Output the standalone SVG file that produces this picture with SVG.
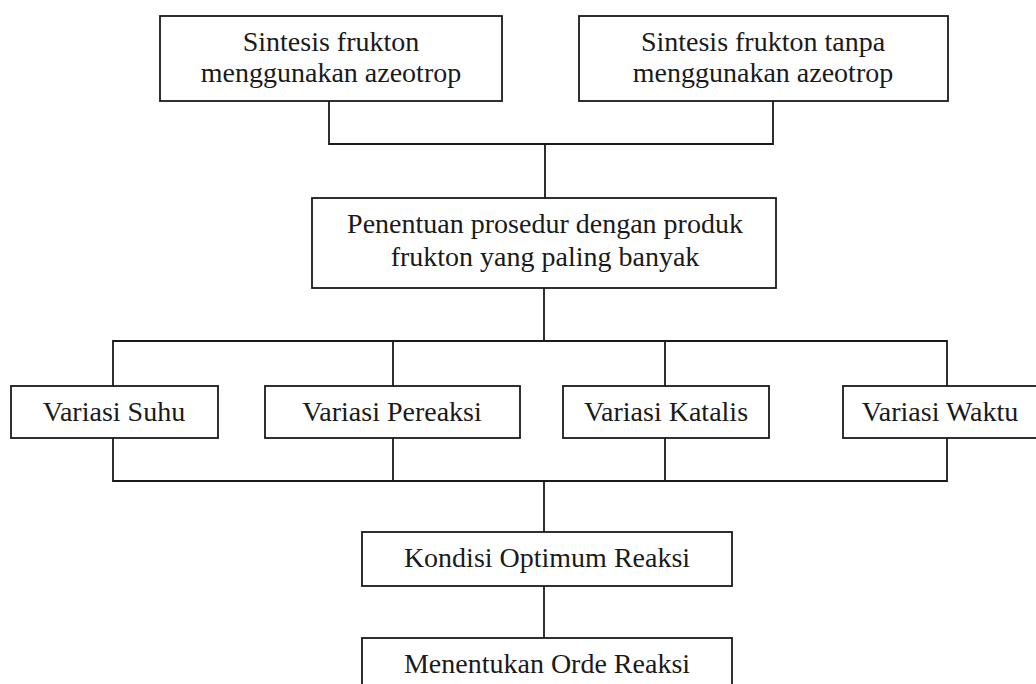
<svg xmlns="http://www.w3.org/2000/svg" width="1036" height="684" viewBox="0 0 1036 684">
<style>
.box{fill:#fff;stroke:#1a1a1a;stroke-width:1.8}
.ln{fill:none;stroke:#1a1a1a;stroke-width:1.8}
text{font-family:"Liberation Serif","Times New Roman",serif;font-size:28px;fill:#1a1a1a;text-anchor:middle}
</style>
<rect width="1036" height="684" fill="#fff"/>
<g id="connectors">
<path class="ln" d="M329 101V144H773V101M545 144V198"/>
<path class="ln" d="M544 288V341M113 386V341H947V386M393 341V386M665 341V386"/>
<path class="ln" d="M113 438V481H947V438M393 438V481M665 438V481M544 481V532"/>
<path class="ln" d="M544 586V638"/>
</g>
<g id="n1"><rect class="box" x="160" y="16" width="342" height="85"/><text x="331" y="51">Sintesis frukton</text><text x="331" y="82">menggunakan azeotrop</text></g>
<g id="n2"><rect class="box" x="579" y="16" width="369" height="85"/><text x="763" y="51">Sintesis frukton tanpa</text><text x="763" y="82">menggunakan azeotrop</text></g>
<g id="n3"><rect class="box" x="312" y="198" width="464" height="90"/><text x="545" y="233">Penentuan prosedur dengan produk</text><text x="545" y="266">frukton yang paling banyak</text></g>
<g id="n4"><rect class="box" x="11" y="386" width="207" height="52"/><text x="114" y="421">Variasi Suhu</text></g>
<g id="n5"><rect class="box" x="265" y="386" width="255" height="52"/><text x="392" y="421">Variasi Pereaksi</text></g>
<g id="n6"><rect class="box" x="563" y="386" width="206" height="52"/><text x="666" y="421">Variasi Katalis</text></g>
<g id="n7"><rect class="box" x="843" y="386" width="196" height="52"/><text x="940" y="421">Variasi Waktu</text></g>
<g id="n8"><rect class="box" x="362" y="532" width="370" height="54"/><text x="547" y="567">Kondisi Optimum Reaksi</text></g>
<g id="n9"><rect class="box" x="362" y="638" width="370" height="60"/><text x="547" y="673">Menentukan Orde Reaksi</text></g>
</svg>
